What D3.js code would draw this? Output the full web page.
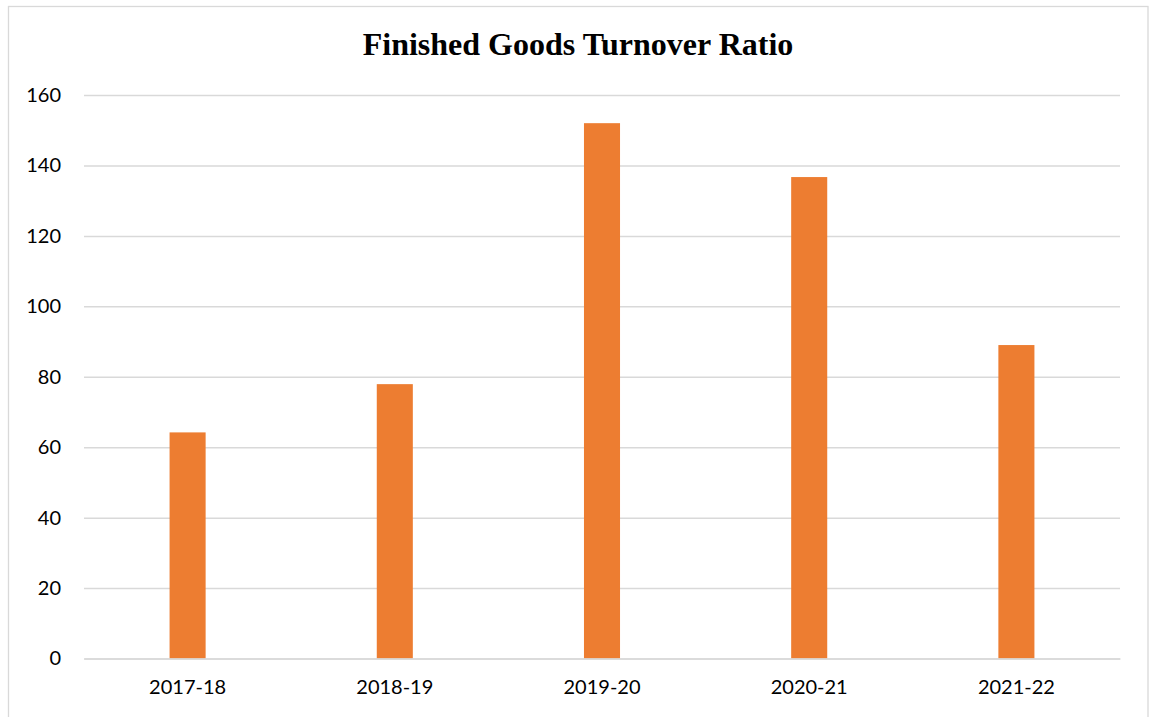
<!DOCTYPE html>
<html><head><meta charset="utf-8">
<script src="https://cdn.jsdelivr.net/npm/d3@7"></script>
<style>body{margin:0;background:#fff}svg{display:block}</style>
</head><body>
<svg id="c" width="1149" height="717"></svg>
<script>
const categories = ["2017-18","2018-19","2019-20","2020-21","2021-22"];
const values = [64.2, 77.9, 152.0, 136.7, 89.0];
const yTicks = [0,20,40,60,80,100,120,140,160];
const title = "Finished Goods Turnover Ratio";

(function(){
const svg = d3.select("#c");
svg.append("rect").attr("x",8.5).attr("y",6.5).attr("width",1139.5).attr("height",720)
  .attr("fill","#fff").attr("stroke","#d9d9d9").attr("stroke-width",1.3);

const pl=84, pr=1120, pt=95, pb=658.5;
const x = d3.scaleBand().domain(categories).range([pl,pr]).paddingInner(0.826).paddingOuter(0.413);
const y = d3.scaleLinear().domain([0,160]).range([pb,pt]);

const yAxis = d3.axisLeft(y).tickValues(yTicks).tickSize(-(pr-pl)).tickPadding(23);
const gy = svg.append("g").attr("transform",`translate(${pl},0)`).call(yAxis);
gy.select(".domain").remove();
gy.selectAll(".tick line").attr("stroke","#d9d9d9").attr("stroke-width",1.5);
gy.selectAll(".tick text").attr("font-family","Lato, 'Open Sans', sans-serif").attr("font-size",20).attr("fill","#000");

svg.append("g").selectAll("rect").data(values).join("rect")
  .attr("x",(d,i)=>x(categories[i])).attr("width",x.bandwidth())
  .attr("y",d=>y(d)).attr("height",d=>y(0)-y(d)).attr("fill","#ed7d31");

const xAxis = d3.axisBottom(x).tickSize(0).tickPadding(21);
const gx = svg.append("g").attr("transform",`translate(0,${pb})`).call(xAxis);
gx.select(".domain").attr("stroke","#d9d9d9").attr("stroke-width",1.5);
gx.selectAll(".tick text").attr("font-family","Lato, 'Open Sans', sans-serif").attr("font-size",20).attr("fill","#000");

svg.append("text").attr("x",578).attr("y",55).attr("text-anchor","middle")
  .attr("font-family","'Liberation Serif', 'Times New Roman', serif").attr("font-weight","bold")
  .attr("font-size",32).attr("fill","#000").text(title);
})();
</script>
</body></html>
